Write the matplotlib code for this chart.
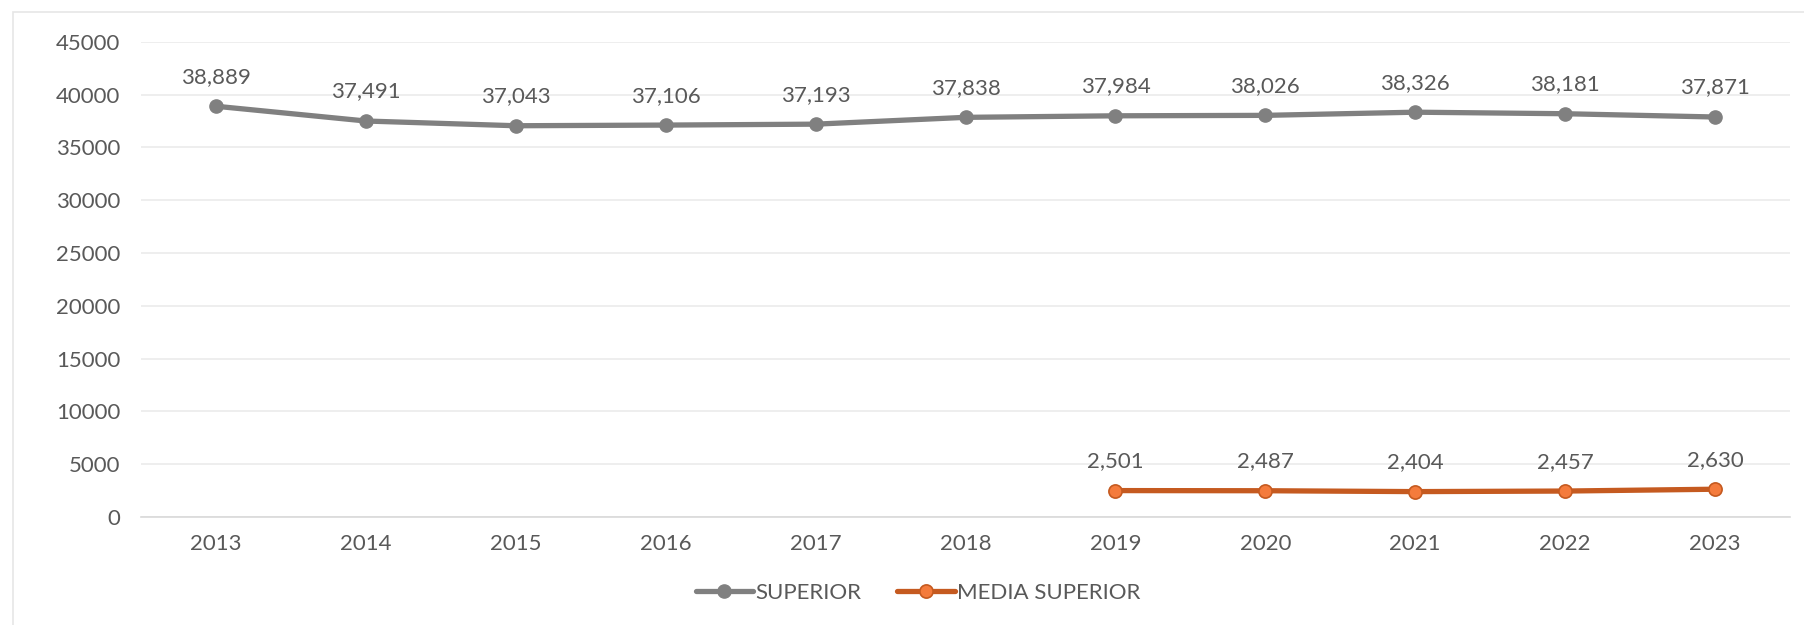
import matplotlib
matplotlib.use("Agg")
import matplotlib.pyplot as plt
from matplotlib.patches import Rectangle

years = ["2013", "2014", "2015", "2016", "2017", "2018", "2019", "2020", "2021", "2022", "2023"]
superior = [38889, 37491, 37043, 37106, 37193, 37838, 37984, 38026, 38326, 38181, 37871]
media_years = ["2019", "2020", "2021", "2022", "2023"]
media_superior = [2501, 2487, 2404, 2457, 2630]
yticks = [0, 5000, 10000, 15000, 20000, 25000, 30000, 35000, 40000, 45000]

plt.rcParams['font.family'] = ['Lato', 'DejaVu Sans']
TXT = '#595959'
W, H = 1804, 625
fig = plt.figure(figsize=(W/100, H/100), dpi=100)
ax = fig.add_axes([141/W, 1-517/H, (1790-141)/W, (517-41.7)/H])

# chart border
fig.patches.append(Rectangle((13/W, -0.1), 1.2, 1-12/H+0.1, transform=fig.transFigure,
                             fill=False, edgecolor='#E6E6E6', linewidth=1.2))

x_sup = list(range(len(years)))
x_med = [years.index(y) for y in media_years]

ax.plot(x_sup, superior, color='#808080', linewidth=3.8, marker='o', markersize=9.5,
        markerfacecolor='#808080', markeredgecolor='#808080', label='SUPERIOR', zorder=3,
        solid_capstyle='round')
ax.plot(x_med, media_superior, color='#C55A20', linewidth=3.8, marker='o', markersize=9.5,
        markerfacecolor='#F47B3C', markeredgecolor='#C55A20', markeredgewidth=1.2,
        label='MEDIA SUPERIOR', zorder=3, solid_capstyle='round')

for xi, v in zip(x_sup, superior):
    ax.annotate(f"{v:,}", (xi, v), xytext=(0, 14), textcoords='offset points',
                ha='center', va='bottom', fontsize=16, color=TXT)
for xi, v in zip(x_med, media_superior):
    ax.annotate(f"{v:,}", (xi, v), xytext=(0, 14), textcoords='offset points',
                ha='center', va='bottom', fontsize=16, color=TXT)

ax.set_xlim(-0.5, len(years)-0.5)
ax.set_ylim(0, 45000)
ax.set_yticks(yticks)
ax.set_yticklabels([str(t) for t in yticks])
ax.set_xticks(x_sup)
ax.set_xticklabels(years)
ax.tick_params(axis='both', length=0, labelsize=16, labelcolor=TXT)
ax.tick_params(axis='y', pad=15)
ax.tick_params(axis='x', pad=12)
ax.grid(axis='y', color='#EBEBEB', linewidth=1.2)
ax.set_axisbelow(True)
for s in ['top', 'right', 'left']:
    ax.spines[s].set_visible(False)
ax.spines['bottom'].set_color('#D9D9D9')
ax.spines['bottom'].set_linewidth(1.2)

fig.legend(loc='center', bbox_to_anchor=(918/W, 1-593/H), ncol=2, frameon=False,
           fontsize=16, labelcolor=TXT, handlelength=2.6, handletextpad=0.1,
           columnspacing=1.6)

fig.savefig('out.png', dpi=100)
